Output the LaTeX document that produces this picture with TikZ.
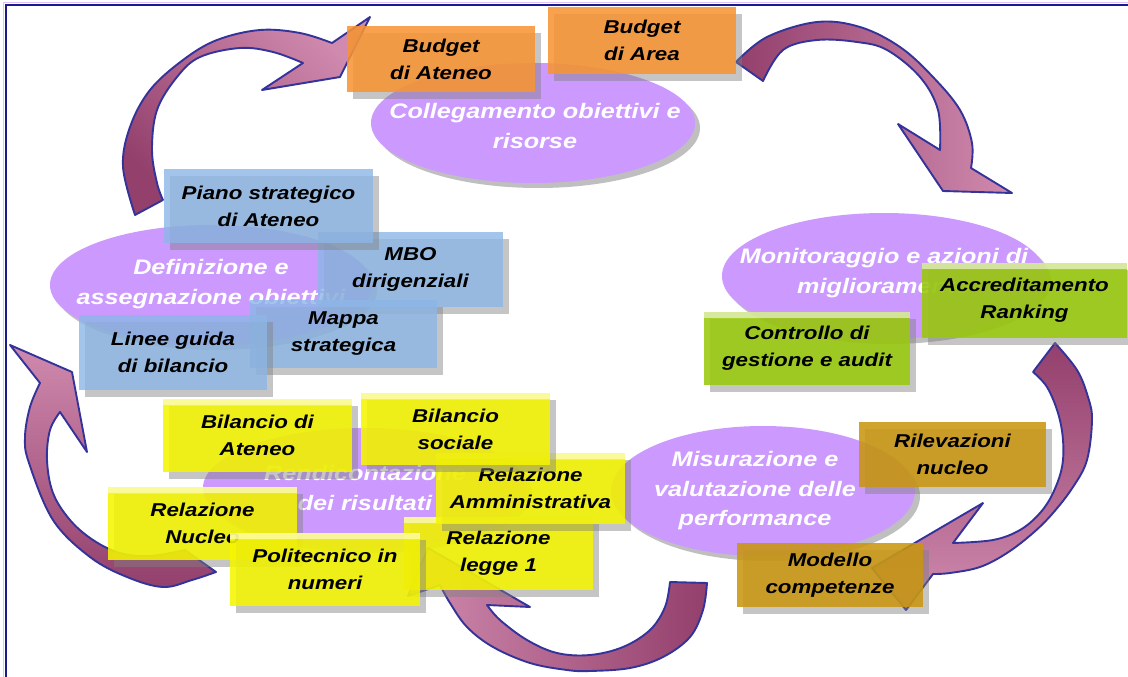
\documentclass[tikz,border=0pt]{standalone}
\usepackage{fontspec}
\setmainfont{Liberation Sans}[FakeStretch=1.2]
\usetikzlibrary{shapes.geometric,shadows}
\definecolor{ell}{HTML}{CC99FF}
\definecolor{orng}{HTML}{F79434}
\definecolor{blu}{HTML}{8CB6E6}
\definecolor{ylw}{HTML}{F5F500}
\definecolor{grn}{HTML}{99C90A}
\definecolor{gld}{HTML}{C99610}
\definecolor{adark}{HTML}{93406C}
\definecolor{alight}{HTML}{D08AAE}
\definecolor{aline}{HTML}{333399}
\definecolor{framec}{HTML}{1A1A8C}
\newcommand\bxfont{\fontsize{18.6pt}{27pt}\selectfont\bfseries\itshape}
\newcommand\elfont{\fontsize{21pt}{29.5pt}\selectfont\bfseries\itshape}
\begin{document}
\begin{tikzpicture}[x=1pt,y=-1pt,
  ellnode/.style={ellipse, fill=ell, inner sep=0pt,
    drop shadow={shadow xshift=5pt, shadow yshift=-5pt, opacity=0.5}},
  elltext/.style={text=white, font=\elfont, align=center, inner sep=0pt},
  bx/.style={rectangle, inner sep=0pt, align=center, font=\bxfont,
    fill opacity=0.87, text opacity=1,
    drop shadow={shadow xshift=6pt, shadow yshift=-7pt, opacity=0.45}},
  pale/.style={path picture={\fill[white, opacity=0.55]
    (path picture bounding box.north west) rectangle ([yshift=-6pt]path picture bounding box.north east);}},
  arw/.style={draw=aline, line width=1.9pt, line join=round}
]
\useasboundingbox (0,0) rectangle (1128,677);
\fill[white] (0,0) rectangle (1128,677);
% frame
\draw[ell!60, line width=1pt] (3.3,700) -- (3.3,2.8) -- (1140,2.8);
\draw[framec, line width=2pt] (5.8,700) -- (5.8,5.3) -- (1140,5.3);

% ellipses
\node[ellnode, minimum width=324, minimum height=120] (e1) at (533,123) {};
\node[ellnode, minimum width=322, minimum height=120] (e2) at (211,285) {};
\node[ellnode, minimum width=324, minimum height=126] (e3) at (884,276) {};
\node[ellnode, minimum width=324, minimum height=120] (e4) at (365,488) {};
\node[ellnode, minimum width=304, minimum height=130] (e5) at (763,491) {};
\node[elltext] (t1) at (535,126) {Collegamento obiettivi e\\risorse};
\node[elltext] (t2) at (211,284) {Definizione e\\assegnazione obiettivi};
\node[elltext] (t3) at (884,273) {Monitoraggio e azioni di\\miglioramento};
\node[elltext] (t4) at (365,488) {Rendicontazione\\dei risultati};
\node[elltext] (t5) at (755,491) {Misurazione e\\valutazione delle\\performance};

% curved arrows
\shadedraw[arw, left color=adark, right color=alight, shading angle=135]
  plot[smooth, tension=0.6] coordinates {(135,215) (123,167) (130,127) (150,90) (183,60) (217,40) (260,30) (300,33) (332,43)}
  -- (370,17) -- (340,77) -- (262,90) -- (303,63)
  -- plot[smooth, tension=0.6] coordinates {(303,63) (273,52) (240,48) (200,57) (177,77) (157,110) (152,150) (157,183) (163,200)}
  -- cycle;
\shadedraw[arw, left color=adark, right color=alight]
  plot[smooth, tension=0.6] coordinates {(736,62) (767,37) (817,22) (860,27) (900,47) (933,77) (960,110) (972,143) (971,168)}
  -- (1012,193) -- (943,191) -- (898,124) -- (940,150)
  -- plot[smooth, tension=0.6] coordinates {(940,150) (938,110) (920,77) (887,50) (857,42) (817,40) (783,50) (763,81)}
  -- cycle;
\shadedraw[arw, top color=adark, bottom color=alight]
  plot[smooth, tension=0.6] coordinates {(1055,343) (1077,370) (1088,397) (1092,420) (1087,460) (1073,487) (1053,513) (1033,533) (1007,553) (980,567) (950,573) (933,574)}
  -- (906,610) -- (872,568) -- (983,503) -- (953,543)
  -- plot[smooth, tension=0.6] coordinates {(953,543) (993,540) (1020,530) (1040,513) (1053,493) (1062,467) (1063,440) (1058,413) (1047,387) (1033,372)}
  -- cycle;
\shadedraw[arw, left color=alight, right color=adark]
  plot[smooth, tension=0.6] coordinates {(707,583) (703,610) (690,637) (663,657) (630,668) (590,671) (567,670) (530,663) (493,647) (467,627) (450,603) (440,585)}
  -- (408,596) -- (428,548) -- (530,607) -- (487,605)
  -- plot[smooth, tension=0.6] coordinates {(487,605) (500,620) (527,640) (557,653) (590,655) (623,647) (650,630) (665,607) (670,582)}
  -- cycle;
\shadedraw[arw, top color=alight, bottom color=adark]
  plot[smooth, tension=0.6] coordinates {(216,572) (192,580) (163,587) (127,577) (90,557) (53,520) (29,463) (25,437) (30,407) (40,383)}
  -- (10,345) -- (72,372) -- (87,452) -- (60,412)
  -- plot[smooth, tension=0.6] coordinates {(60,412) (50,430) (47,460) (53,493) (70,520) (93,540) (120,553) (150,556) (185,550)}
  -- cycle;

% orange boxes
\node[bx, fill=orng, minimum width=188, minimum height=66] (budA) at (441,59) {Budget\\di Ateneo};
\node[bx, fill=orng, minimum width=188, minimum height=67] (budB) at (642,40.5) {Budget\\di Area};
% blue boxes
\node[bx, fill=blu, fill opacity=0.8, minimum width=185, minimum height=75] (mbo) at (410.5,269.5) {MBO\\dirigenziali};
\node[bx, fill=blu, fill opacity=0.8, minimum width=209, minimum height=74] (piano) at (268.5,206) {Piano strategico\\di Ateneo};
\node[bx, fill=blu, fill opacity=0.8, minimum width=187, minimum height=68] (mappa) at (343.5,334) {Mappa\\strategica};
\node[bx, fill=blu, fill opacity=0.8, minimum width=188, minimum height=75] (linee) at (173,352.5) {Linee guida\\di bilancio};
% yellow boxes
\node[bx, pale, fill=ylw, minimum width=189, minimum height=73] (legge) at (498.5,553.5) {Relazione\\legge 1};
\node[bx, pale, fill=ylw, minimum width=189, minimum height=71] (relAm) at (530.5,488.5) {Relazione\\Amministrativa};
\node[bx, pale, fill=ylw, minimum width=189, minimum height=72] (bilS) at (455.5,429) {Bilancio\\sociale};
\node[bx, pale, fill=ylw, minimum width=189, minimum height=73] (bilA) at (257.5,435.5) {Bilancio di\\Ateneo};
\node[bx, pale, fill=ylw, minimum width=189, minimum height=73] (relNuc) at (202.5,523.5) {Relazione\\Nucleo};
\node[bx, pale, fill=ylw, minimum width=190, minimum height=73] (polit) at (325,569.5) {Politecnico in\\numeri};
% green boxes
\node[bx, pale, fill=grn, minimum width=206, minimum height=73] (contr) at (807,348.5) {Controllo di\\gestione e audit};
\node[bx, pale, fill=grn, minimum width=205, minimum height=75] (accr) at (1024.5,300.5) {Accreditamento\\Ranking};
% gold boxes
\node[bx, fill=gld, minimum width=187, minimum height=65] (rilev) at (952.5,454.5) {Rilevazioni\\nucleo};
\node[bx, fill=gld, minimum width=186, minimum height=64] (model) at (830,575) {Modello\\competenze};
\end{tikzpicture}
\end{document}
